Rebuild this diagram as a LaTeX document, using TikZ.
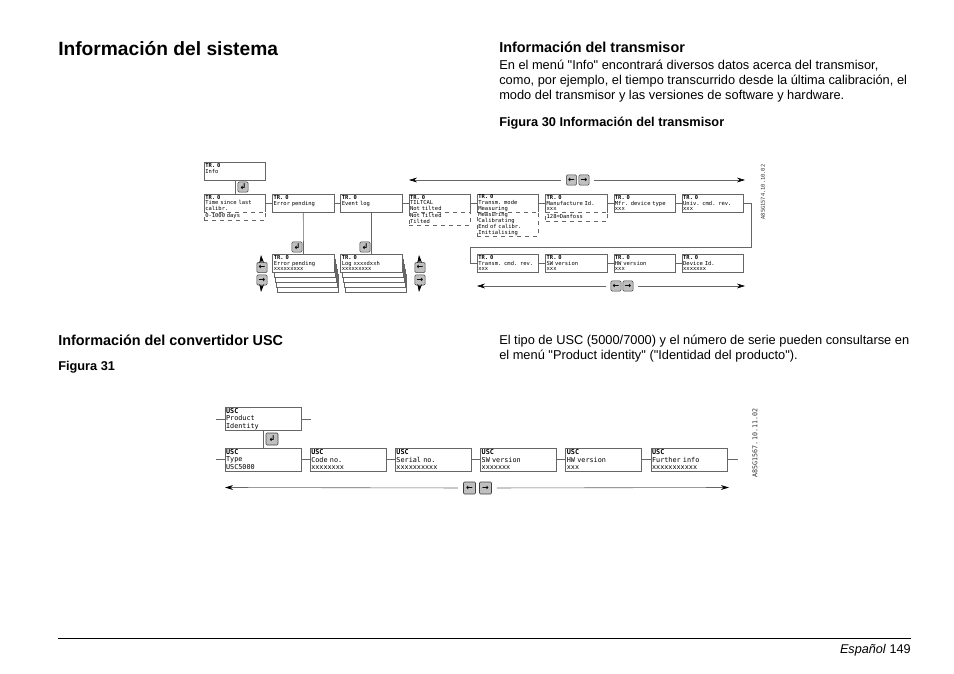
\documentclass[tikz,border=0pt]{standalone}
\usepackage{fontspec}
\setmainfont[Ligatures=TeXOff]{Liberation Sans}
\newfontfamily\screenfont{DejaVu Sans Mono}
\newfontfamily\iconfont{DejaVu Sans}
\usetikzlibrary{arrows.meta,positioning}
\tikzset{
  headtext/.style={anchor=base west,inner sep=0pt,font=\bfseries\fontsize{10.8}{12}\selectfont},
  figtext/.style={anchor=base west,inner sep=0pt,font=\bfseries\fontsize{9.58}{11}\selectfont},
  bodytext/.style={anchor=north west,inner sep=0pt,align=left,font=\fontsize{9.62}{11.25}\selectfont},
  trbox/.style={draw=black!60,line width=.5pt,fill=white,outer sep=0pt,inner xsep=.8pt,inner ysep=0pt,
    text width=44.5pt,minimum height=13.5pt,align=left,font=\screenfont\fontsize{4.1}{4.3}\selectfont},
  trdrop/.style={trbox,dashed,minimum height=6pt},
  uscbox/.style={trbox,text width=55.4pt,minimum height=17pt,font=\screenfont\fontsize{5.1}{5.7}\selectfont},
  link/.style={draw=black!60,line width=.5pt},
  navarrow/.style={draw=black!60,line width=.45pt,-{Stealth[length=6pt,width=3.6pt,color=black]},shorten <=4pt},
  keyicon/.style={draw=black!75,fill=black!25,rounded corners=.8pt,inner sep=0pt,minimum size=7.6pt,
    outer sep=0pt,font=\iconfont\bfseries\fontsize{6}{6}\selectfont},
  stampcode/.style={rotate=90,inner sep=0pt,text=black!80,font=\screenfont\fontsize{4}{4}\selectfont}
}
\begin{document}
\begin{tikzpicture}[x=.75pt,y=-.75pt,node distance=5.1pt]
  \useasboundingbox (0,0) rectangle (954,674);

  \node[anchor=base west,inner sep=0pt,font=\bfseries\fontsize{14.4}{16}\selectfont] (title) at (58,56) {Información del sistema};
  \node[headtext] (headtrans) at (499,52.5) {Información del transmisor};
  \node[bodytext] (paratrans) at (499,60) {En el menú "Info" encontrará diversos datos acerca del transmisor,\\como, por ejemplo, el tiempo transcurrido desde la última calibración, el\\modo del transmisor y las versiones de software y hardware.};
  \node[figtext] (figthirty) at (499,126.5) {Figura 30 Información del transmisor};
  \node[headtext] (headusc) at (58,345) {Información del convertidor USC};
  \node[figtext] (figthirtyone) at (58,370.5) {Figura 31};
  \node[bodytext] (parausc) at (499,335) {El tipo de USC (5000/7000) y el número de serie pueden consultarse en\\el menú "Product identity" ("Identidad del producto").};

  \node[trbox] (info) at (235,171) {\textbf{TR. 0}\\Info\\~};
  \node[trbox] (since) at (235,203) {\textbf{TR. 0}\\Time since last\\calibr.};
  \node[trbox,right=of since] (errbox) {\textbf{TR. 0}\\Error pending\\~};
  \node[trbox,right=of errbox] (logbox) {\textbf{TR. 0}\\Event log\\~};
  \node[trbox,right=of logbox] (tilt) {\textbf{TR. 0}\\TILTCAL\\Not tilted};
  \node[trbox,right=of tilt] (mode) {\textbf{TR. 0}\\Transm. mode\\Measuring};
  \node[trbox,right=of mode] (manuf) {\textbf{TR. 0}\\Manufacture Id.\\xxx};
  \node[trbox,right=of manuf] (mfr) {\textbf{TR. 0}\\Mfr. device type\\xxx};
  \node[trbox,right=of mfr] (univ) {\textbf{TR. 0}\\Univ. cmd. rev.\\xxx};

  \node[trdrop,below=0pt of since] (sincedrop) {0-1000 days};
  \node[trdrop,below=0pt of tilt,minimum height=9.75pt] (tiltdrop) {Not Tilted\\Tilted};
  \node[trdrop,below=0pt of mode,minimum height=18pt] (modedrop) {Measuring\\Calibrating\\End of calibr.\\Initialising};
  \node[trdrop,below=0pt of manuf,minimum height=6.75pt] (manufdrop) {128=Danfoss};

  \node[trbox,below=31.5pt of mode] (cmdrev) {\textbf{TR. 0}\\Transm. cmd. rev.\\xxx};
  \node[trbox,right=of cmdrev] (swver) {\textbf{TR. 0}\\SW version\\xxx};
  \node[trbox,right=of swver] (hwver) {\textbf{TR. 0}\\HW version\\xxx};
  \node[trbox,right=of hwver] (devid) {\textbf{TR. 0}\\Device Id.\\xxxxxxx};

  \coordinate (errpos) at (303.5,263);
  \coordinate (logpos) at (371.5,263);
  \foreach \n in {4,3,2,1} {
    \node[trbox] (errsheet\n) at ([shift={(\n*1.1,\n*5)}]errpos) {};
    \node[trbox] (logsheet\n) at ([shift={(\n*1.1,\n*5)}]logpos) {};
  }
  \node[trbox] (errlist) at (errpos) {\textbf{TR. 0}\\Error pending\\xxxxxxxxx};
  \node[trbox] (loglist) at (logpos) {\textbf{TR. 0}\\Log xxxxdxxh\\xxxxxxxxx};

  \draw[link] (info.south -| since) -- (since);
  \draw[link] (since) -- (errbox);
  \draw[link] (errbox) -- (logbox);
  \draw[link] (logbox) -- (tilt);
  \draw[link] (tilt) -- (mode);
  \draw[link] (mode) -- (manuf);
  \draw[link] (manuf) -- (mfr);
  \draw[link] (mfr) -- (univ);
  \draw[link] (errbox) -- (errlist);
  \draw[link] (logbox) -- (loglist);
  \draw[link] (cmdrev) -- (swver);
  \draw[link] (swver) -- (hwver);
  \draw[link] (hwver) -- (devid);
  \coordinate (wrapright) at (751,247);
  \coordinate (wrapleft) at (470,247);
  \draw[link] (univ.east) -| (wrapright) -- (wrapleft) |- (cmdrev.west);

  \node[keyicon] (enterinfo) at (243,187) {↲};
  \node[keyicon] (entererr) at (297,247) {↲};
  \node[keyicon] (enterlog) at (365,247) {↲};

  \node[keyicon] (topleft) at (571.5,180) {←};
  \node[keyicon] (topright) at (584,180) {→};
  \coordinate (toptipl) at (409,180);
  \coordinate (toptipr) at (745,180);
  \draw[navarrow] (topleft) -- (toptipl);
  \draw[navarrow] (topright) -- (toptipr);

  \node[keyicon] (lowleft) at (616,286) {←};
  \node[keyicon] (lowright) at (628,286) {→};
  \coordinate (lowtipl) at (477,286);
  \coordinate (lowtipr) at (745,286);
  \draw[navarrow] (lowleft) -- (lowtipl);
  \draw[navarrow] (lowright) -- (lowtipr);

  \node[keyicon] (errup) at (262,267.5) {←};
  \node[keyicon] (errdown) at (262,280) {→};
  \coordinate (erruptip) at (261,255);
  \coordinate (errdowntip) at (261,292);
  \draw[navarrow,shorten <=0pt] (errup) -- (erruptip);
  \draw[navarrow,shorten <=0pt] (errdown) -- (errdowntip);

  \node[keyicon] (logup) at (420,267.5) {←};
  \node[keyicon] (logdown) at (420,280) {→};
  \coordinate (loguptip) at (419,255);
  \coordinate (logdowntip) at (419,292);
  \draw[navarrow,shorten <=0pt] (logup) -- (loguptip);
  \draw[navarrow,shorten <=0pt] (logdown) -- (logdowntip);

  \node[stampcode] (stampone) at (763,192) {A85G1574.10.10.02};

  \node[uscbox] (product) at (263,419) {\textbf{USC}\\Product\\Identity};
  \node[uscbox] (usctype) at (263,459.5) {\textbf{USC}\\Type\\USC5000};
  \node[uscbox,right=6.9pt of usctype] (code) {\textbf{USC}\\Code no.\\xxxxxxxx};
  \node[uscbox,right=6.9pt of code] (serial) {\textbf{USC}\\Serial no.\\xxxxxxxxxx};
  \node[uscbox,right=6.9pt of serial] (uscsw) {\textbf{USC}\\SW version\\xxxxxxx};
  \node[uscbox,right=6.9pt of uscsw] (uschw) {\textbf{USC}\\HW version\\xxx};
  \node[uscbox,right=6.9pt of uschw] (further) {\textbf{USC}\\Further info\\xxxxxxxxxxx};

  \coordinate (prodstubl) at (216,419);
  \coordinate (prodstubr) at (311,419);
  \coordinate (typestub) at (216,459.5);
  \coordinate (furtherstub) at (738,459.5);
  \draw[link] (prodstubl) -- (product);
  \draw[link] (product) -- (prodstubr);
  \draw[link] (typestub) -- (usctype);
  \draw[link] (product) -- (usctype);
  \draw[link] (usctype) -- (code);
  \draw[link] (code) -- (serial);
  \draw[link] (serial) -- (uscsw);
  \draw[link] (uscsw) -- (uschw);
  \draw[link] (uschw) -- (further);
  \draw[link] (further) -- (furtherstub);

  \node[keyicon,minimum size=9pt] (enterusc) at (272,439) {↲};
  \node[keyicon,minimum size=9pt] (uscleft) at (469.5,488) {←};
  \node[keyicon,minimum size=9pt] (uscright) at (485.5,488) {→};
  \coordinate (usctipl) at (225,487.5);
  \coordinate (usctipr) at (729,487.5);
  \draw[navarrow] (uscleft) -- (usctipl);
  \draw[navarrow] (uscright) -- (usctipr);

  \node[stampcode,font=\screenfont\fontsize{5}{5}\selectfont] (stamptwo) at (755,443) {A85G1567.10.11.02};

  \coordinate (rulel) at (58,638);
  \coordinate (ruler) at (911,638);
  \draw[line width=.6pt] (rulel) -- (ruler);
  \node[anchor=base east,inner sep=0pt,font=\fontsize{9.5}{11}\selectfont] (footer) at (911,653) {\textit{Español} 149};
\end{tikzpicture}
\end{document}
